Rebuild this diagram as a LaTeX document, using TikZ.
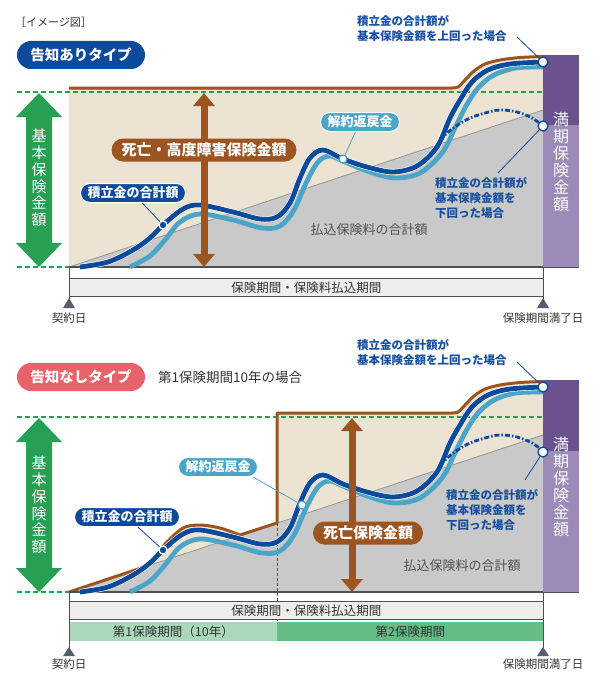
\documentclass[tikz,border=0pt]{standalone}
\usepackage{fontspec}
\setmainfont{Noto Sans CJK JP}
\usepackage{tikz}
\usetikzlibrary{arrows.meta,positioning,calc}
\definecolor{saveblue}{RGB}{12,74,155}
\definecolor{refundblue}{RGB}{74,165,200}
\definecolor{brownline}{RGB}{156,84,33}
\definecolor{beige}{RGB}{237,227,211}
\definecolor{paidgray}{RGB}{201,201,201}
\definecolor{edgegray}{RGB}{150,150,150}
\definecolor{basegreen}{RGB}{39,160,84}
\definecolor{purpledark}{RGB}{106,82,143}
\definecolor{purplelight}{RGB}{156,139,184}
\definecolor{pinkred}{RGB}{232,98,106}
\definecolor{lightgreen}{RGB}{169,216,186}
\definecolor{midgreen}{RGB}{99,189,133}
\definecolor{barfill}{RGB}{238,238,236}
\definecolor{axisgray}{RGB}{80,80,80}
\definecolor{markgray}{RGB}{88,92,112}
\definecolor{darktext}{RGB}{50,50,50}
\definecolor{noteblue}{RGB}{24,80,160}

% curves shared by both charts
\newcommand{\savingscurve}{plot[smooth, tension=0.55] coordinates {(80,267) (108,262) (133,250) (150,238) (163,225) (183,209) (200,205) (233,212) (260,219) (277,217) (290,203) (300,178) (310,158) (323,150) (343,159) (367,167) (393,172) (417,166) (437,147) (450,118) (460,100) (472,82) (488,70) (510,64) (543,62)}}
\newcommand{\refundcurve}{plot[smooth, tension=0.55] coordinates {(130,267) (150,256) (165,240) (180,222) (200,214) (233,220) (262,228) (280,226) (294,210) (306,183) (318,162) (330,156) (345,162) (370,172) (395,178) (420,173) (442,153) (455,128) (466,106) (478,88) (494,75) (516,68) (543,67)}}
\newcommand{\lapsecurve}{plot[smooth, tension=0.6] coordinates {(440,140) (452,129) (468,119) (485,113) (500,110) (517,112) (532,118) (543,126)}}
\newcommand{\deathtop}{-- plot[smooth, tension=0.5] coordinates {(450,88) (458,87) (466,79) (474,71) (485,64) (500,60) (520,57.5) (543,56.5)}}

\begin{document}
\begin{tikzpicture}[
    x=1pt, y=-1pt,
    typepill/.style={rectangle, rounded corners=14pt, minimum width=128pt, minimum height=28pt, inner sep=0pt, text=white, font=\fontsize{14.5}{16}\selectfont\bfseries},
    labelpill/.style={rectangle, rounded corners=9.5pt, minimum height=19pt, inner xsep=7pt, inner ysep=0pt, draw=white, line width=1pt, text=white, font=\fontsize{13}{14}\selectfont\bfseries},
    benefit/.style={rectangle, rounded corners=11.5pt, minimum height=23pt, inner xsep=10pt, inner ysep=0pt, fill=brownline, text=white, font=\fontsize{15}{16}\selectfont\bfseries},
    note/.style={anchor=north west, align=left, inner sep=0pt, text=noteblue, font=\fontsize{11.5}{15}\selectfont\bfseries},
    vtext/.style={align=center, inner sep=0pt, text=white, font=\fontsize{15}{16.8}\selectfont},
    paidlabel/.style={inner sep=0pt, text=darktext!85, font=\fontsize{13}{14}\selectfont},
    periodbar/.style={rectangle, anchor=north west, minimum height=18pt, inner sep=0pt, draw=axisgray, line width=0.8pt, text=darktext, font=\fontsize{12.5}{13}\selectfont},
    datelabel/.style={inner sep=0pt, text=darktext, font=\fontsize{11.5}{12}\selectfont},
    enddot/.style={circle, minimum size=10pt, inner sep=0pt, fill=white, draw=saveblue, line width=1.3pt},
    curvedot/.style={circle, minimum size=8pt, inner sep=0pt, line width=1.3pt},
    leader/.style={line width=0.8pt},
    benefitarrow/.style={draw=brownline, line width=7pt, <->, >={Triangle[width=21pt,length=13pt]}},
    basedash/.style={draw=basegreen, line width=1.8pt, dash pattern=on 5pt off 3pt},
]
    \useasboundingbox (0,0) rectangle (596,685);

    % With notification
    \node[anchor=west, inner sep=0pt, text=darktext, font=\fontsize{11}{12}\selectfont] (imgnote) at (15,22) {［イメージ図］};
    \node[typepill, fill=saveblue] (typeA) at (81,55) {告知ありタイプ};
    \begin{scope}
        \fill[beige] (69,267) -- (69,88) -- (450,88) \deathtop -- (543,267) -- cycle;
        \fill[paidgray] (69,267) -- (543,110) -- (543,267) -- cycle;
        \draw[edgegray, line width=0.8pt] (69,267) -- (543,110);
        \draw[basedash] (17,92) -- (543,92);
        \draw[basedash] (17,267) -- (69,267);
        \draw[brownline, line width=3pt] (69,88) -- (450,88) \deathtop;
        \draw[axisgray, line width=1.5pt] (69,267) -- (579,267);
        \fill[purpledark] (543,55) rectangle (579,125);
        \fill[purplelight] (543,125) rectangle (579,267);
        \node[vtext, font=\fontsize{16}{17}\selectfont] (maturityA) at (561,162) {満\\期\\保\\険\\金\\額};

        \draw[refundblue, line width=4.8pt] \refundcurve;
        \draw[white, line width=6pt] \savingscurve;
        \draw[saveblue, line width=4.8pt] \savingscurve;
        \draw[saveblue, line width=2.8pt, dash pattern=on 5pt off 2pt on 1.5pt off 2pt] \lapsecurve;

        \fill[basegreen] (39,93) -- (62,117) -- (52,117) -- (52,243) -- (62,243) -- (39,267) -- (16,243) -- (26,243) -- (26,117) -- (16,117) -- cycle;
        \node[vtext] (baseA) at (39,178) {基\\本\\保\\険\\金\\額};

        \coordinate (dtopA) at (204,93);
        \coordinate (dbotA) at (204,267);
        \draw[benefitarrow] (dtopA) -- (dbotA);
        \node[benefit] (deathA) at (204,150) {死亡・高度障害保険金額};

        \node[labelpill, fill=saveblue] (saveA) at (133,193) {積立金の合計額};
        \node[labelpill, fill=refundblue] (refundA) at (360,122) {解約返戻金};
        \node[curvedot, fill=saveblue, draw=white] (saveAdot) at (163,225) {};
        \node[curvedot, fill=white, draw=refundblue] (refundAdot) at (343,159) {};
        \draw[leader, saveblue] (saveA) -- (saveAdot);
        \draw[leader, refundblue] (refundA) -- (refundAdot);

        \node[enddot] (overA) at (543,62) {};
        \node[enddot] (underA) at (543,126) {};
        \node[note] (overAnote) at (357,15.5) {積立金の合計額が\\基本保険金額を上回った場合};
        \coordinate (overAend) at (517,37);
        \draw[leader, saveblue] (overAend) -- (overA);
        \node[note] (underAnote) at (435,177) {積立金の合計額が\\基本保険金額を\\下回った場合};
        \coordinate (underAend) at (498,173);
        \draw[leader, saveblue] (underAend) -- (underA);
        \node[paidlabel] (paidA) at (369,230) {払込保険料の合計額};

        \node[periodbar, fill=barfill, minimum width=474pt] (termA) at (69,278) {保険期間・保険料払込期間};
        \draw[axisgray, line width=0.8pt] (69,267) -- (69,300);
        \draw[axisgray, line width=0.8pt] (543,267) -- (543,300);
        \fill[markgray] (69,298) -- (75,308) -- (63,308) -- cycle;
        \fill[markgray] (543,298) -- (549,308) -- (537,308) -- cycle;
        \node[datelabel] (startA) at (69,318) {契約日};
        \node[datelabel] (endA) at (543,318) {保険期間満了日};
    \end{scope}

    % Without notification
    \node[typepill, fill=pinkred] (typeB) at (81,377) {告知なしタイプ};
    \node[anchor=west, inner sep=0pt, text=darktext, font=\fontsize{13.5}{14}\selectfont] (caseB) at (158,377) {第1保険期間10年の場合};
    \begin{scope}[shift={(0,325)}]
        \fill[beige] (69,267) -- (147,241) -- plot[smooth, tension=0.5] coordinates {(147,241) (155,233) (165,219) (183,203) (200,200) (220,203) (240,210)} -- (277,198) -- (277,88) -- (450,88) \deathtop -- (543,267) -- cycle;
        \fill[paidgray] (69,267) -- (543,110) -- (543,267) -- cycle;
        \draw[edgegray, line width=0.8pt] (69,267) -- (543,110);
        \draw[basedash] (17,92) -- (543,92);
        \draw[basedash] (17,267) -- (69,267);
        \draw[brownline, line width=3pt, line join=round] (69,267) -- (147,241) -- plot[smooth, tension=0.5] coordinates {(147,241) (155,233) (165,219) (183,203) (200,200) (220,203) (240,210)} -- (277,198) -- (277,88) -- (450,88) \deathtop;
        \draw[axisgray, line width=1.5pt] (69,267) -- (579,267);
        \fill[purpledark] (543,55) rectangle (579,126);
        \fill[purplelight] (543,126) rectangle (579,267);
        \node[vtext, font=\fontsize{16}{17}\selectfont] (maturityB) at (561,162) {満\\期\\保\\険\\金\\額};
        \draw[axisgray, line width=0.8pt, dash pattern=on 3pt off 2pt] (277,198) -- (277,316);

        \draw[refundblue, line width=4.8pt] \refundcurve;
        \draw[white, line width=6pt] \savingscurve;
        \draw[saveblue, line width=4.8pt] \savingscurve;
        \draw[saveblue, line width=2.8pt, dash pattern=on 5pt off 2pt on 1.5pt off 2pt] \lapsecurve;

        \fill[basegreen] (39,93) -- (62,117) -- (52,117) -- (52,243) -- (62,243) -- (39,267) -- (16,243) -- (26,243) -- (26,117) -- (16,117) -- cycle;
        \node[vtext] (baseB) at (39,180) {基\\本\\保\\険\\金\\額};

        \coordinate (dtopB) at (352,93);
        \coordinate (dbotB) at (352,267);
        \draw[benefitarrow] (dtopB) -- (dbotB);
        \node[benefit] (deathB) at (368,208) {死亡保険金額};

        \node[labelpill, fill=saveblue] (saveB) at (127,192) {積立金の合計額};
        \node[labelpill, fill=refundblue] (refundB) at (218,142) {解約返戻金};
        \node[curvedot, fill=saveblue, draw=white] (saveBdot) at (163,225) {};
        \node[curvedot, fill=white, draw=refundblue] (refundBdot) at (302,180) {};
        \draw[leader, saveblue] (saveB) -- (saveBdot);
        \draw[leader, refundblue] ([xshift=-5pt]refundB.south east) -- (refundBdot);

        \node[enddot] (overB) at (543,62) {};
        \node[enddot] (underB) at (543,127) {};
        \node[note] (overBnote) at (357,14.5) {積立金の合計額が\\基本保険金額を上回った場合};
        \coordinate (overBend) at (517,37);
        \draw[leader, saveblue] (overBend) -- (overB);
        \node[note] (underBnote) at (446,164) {積立金の合計額が\\基本保険金額を\\下回った場合};
        \coordinate (underBend) at (525,155);
        \draw[leader, saveblue] (underBend) -- (underB);
        \node[paidlabel] (paidB) at (462,241) {払込保険料の合計額};

        \node[periodbar, fill=barfill, minimum width=474pt] (termB) at (69,276) {保険期間・保険料払込期間};
        \node[periodbar, draw=none, fill=lightgreen, minimum width=208pt, minimum height=19pt] (firstB) at (69,297) {第1保険期間（10年）};
        \node[periodbar, draw=none, fill=midgreen, minimum width=266pt, minimum height=19pt] (secondB) at (277,297) {第2保険期間};
        \draw[axisgray, line width=0.8pt] (69,267) -- (69,324);
        \draw[axisgray, line width=0.8pt] (543,267) -- (543,324);
        \fill[markgray] (69,322) -- (75,331) -- (63,331) -- cycle;
        \fill[markgray] (543,322) -- (549,331) -- (537,331) -- cycle;
        \node[datelabel] (startB) at (69,339) {契約日};
        \node[datelabel] (endB) at (543,339) {保険期間満了日};
    \end{scope}
\end{tikzpicture}
\end{document}
